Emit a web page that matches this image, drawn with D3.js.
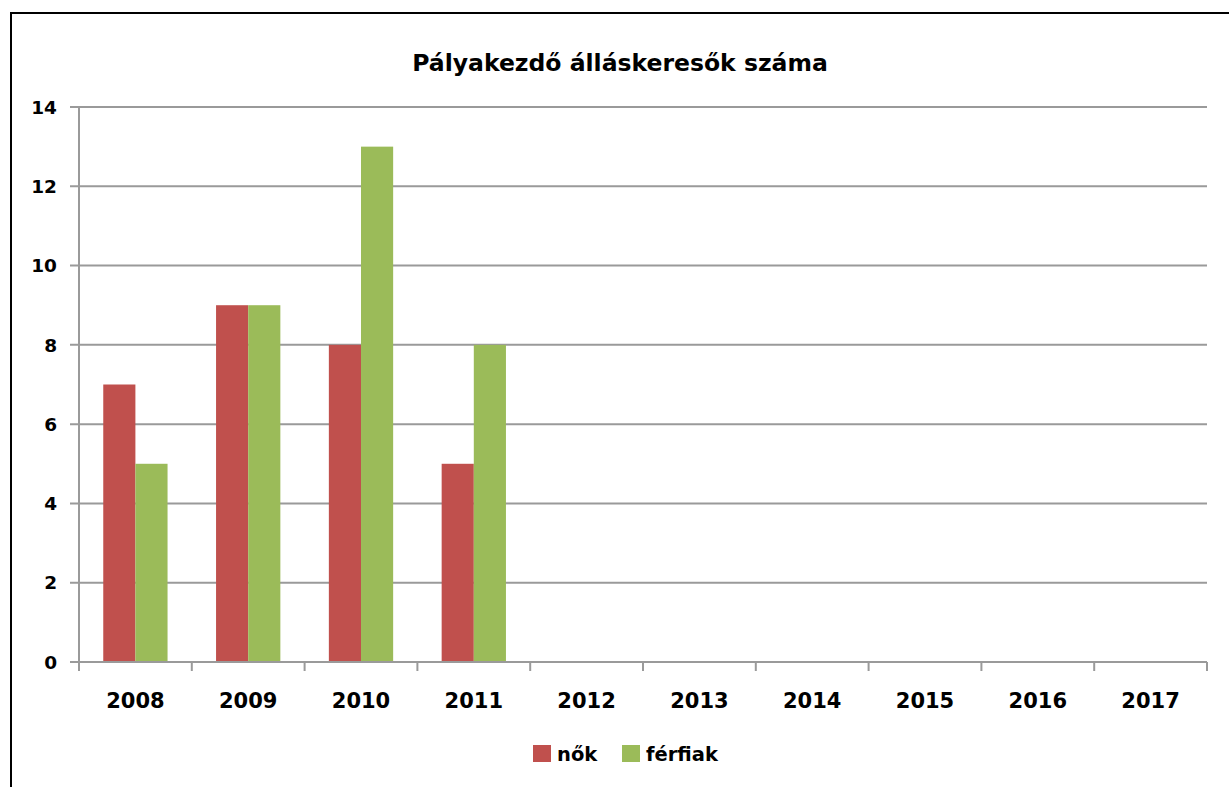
<!DOCTYPE html>
<html>
<head>
<meta charset="utf-8">
<script src="https://cdn.jsdelivr.net/npm/d3@7"></script>
<style>
  body { margin: 0; background: #fff; }
  text { font-family: "DejaVu Sans", Verdana, sans-serif; font-weight: bold; fill: #000; }
</style>
</head>
<body>
<div id="chart"></div>
<script>
'use strict';

// chart values
const years = ["2008", "2009", "2010", "2011", "2012", "2013", "2014", "2015", "2016", "2017"];
const nok = [7, 9, 8, 5, null, null, null, null, null, null];
const ferfiak = [5, 9, 13, 8, null, null, null, null, null, null];
const yTicks = [0, 2, 4, 6, 8, 10, 12, 14];
const seriesNames = ["nők", "férfiak"];
const seriesColors = ["#C0504D", "#9BBB59"];

const W = 1229, H = 787;
const margin = { top: 107, right: 22, bottom: 125, left: 79 };
const width = W - margin.left - margin.right;
const height = H - margin.top - margin.bottom;

const svg = d3.select("#chart").append("svg")
    .attr("width", W)
    .attr("height", H);

// outer chart border (runs off right/bottom of the picture)
svg.append("rect")
    .attr("x", 11).attr("y", 13)
    .attr("width", W + 20).attr("height", H + 20)
    .attr("fill", "none")
    .attr("stroke", "#000")
    .attr("stroke-width", 2);

svg.append("text")
    .attr("x", 620).attr("y", 71)
    .attr("text-anchor", "middle")
    .style("font-size", "23.5px")
    .text("Pályakezdő álláskeresők száma");

const g = svg.append("g")
    .attr("transform", "translate(" + margin.left + "," + margin.top + ")");

const x = d3.scaleBand()
    .domain(years)
    .range([0, width])
    .paddingInner(0.43)
    .paddingOuter(0.215);

const xSub = d3.scaleBand()
    .domain(seriesNames)
    .range([0, x.bandwidth()]);

const y = d3.scaleLinear()
    .domain([0, 14])
    .range([height, 0]);

// gridlines
g.append("g")
    .selectAll("line")
    .data(yTicks)
    .enter()
    .append("line")
    .attr("x1", -9).attr("x2", width)
    .attr("y1", d => y(d)).attr("y2", d => y(d))
    .attr("stroke", "#9a9a9a")
    .attr("stroke-width", 2);

// y labels
g.append("g")
    .selectAll("text")
    .data(yTicks)
    .enter()
    .append("text")
    .attr("x", -22)
    .attr("y", d => y(d))
    .attr("dy", "0.36em")
    .attr("text-anchor", "end")
    .style("font-size", "18.5px")
    .text(d => d);

// bars
const series = [nok, ferfiak];
series.forEach((vals, si) => {
    g.append("g")
        .selectAll("rect")
        .data(vals.map((v, i) => ({ year: years[i], value: v })).filter(d => d.value != null))
        .enter()
        .append("rect")
        .attr("x", d => x(d.year) + xSub(seriesNames[si]))
        .attr("y", d => y(d.value))
        .attr("width", xSub.bandwidth())
        .attr("height", d => height - y(d.value))
        .attr("fill", seriesColors[si]);
});

// y axis line
g.append("line")
    .attr("x1", 0).attr("x2", 0)
    .attr("y1", 0).attr("y2", height)
    .attr("stroke", "#9a9a9a")
    .attr("stroke-width", 2);

// x axis
const xAxis = g.append("g")
    .attr("transform", "translate(0," + height + ")");

xAxis.append("line")
    .attr("x1", 0).attr("x2", width)
    .attr("stroke", "#9a9a9a")
    .attr("stroke-width", 2);

const step = x.step();
xAxis.selectAll(".tick")
    .data(d3.range(years.length + 1))
    .enter()
    .append("line")
    .attr("class", "tick")
    .attr("x1", d => d * step).attr("x2", d => d * step)
    .attr("y1", 0).attr("y2", 9)
    .attr("stroke", "#9a9a9a")
    .attr("stroke-width", 2);

xAxis.selectAll("text")
    .data(years)
    .enter()
    .append("text")
    .attr("x", d => x(d) + x.bandwidth() / 2)
    .attr("y", 46)
    .attr("text-anchor", "middle")
    .style("font-size", "21px")
    .text(d => d);

// legend
const legendX = [533, 622];
const legend = svg.append("g");
seriesNames.forEach((name, i) => {
    legend.append("rect")
        .attr("x", legendX[i]).attr("y", 745)
        .attr("width", 18).attr("height", 17)
        .attr("fill", seriesColors[i]);
    legend.append("text")
        .attr("x", legendX[i] + 24).attr("y", 761)
        .style("font-size", "19.5px")
        .text(name);
});
</script>
</body>
</html>
